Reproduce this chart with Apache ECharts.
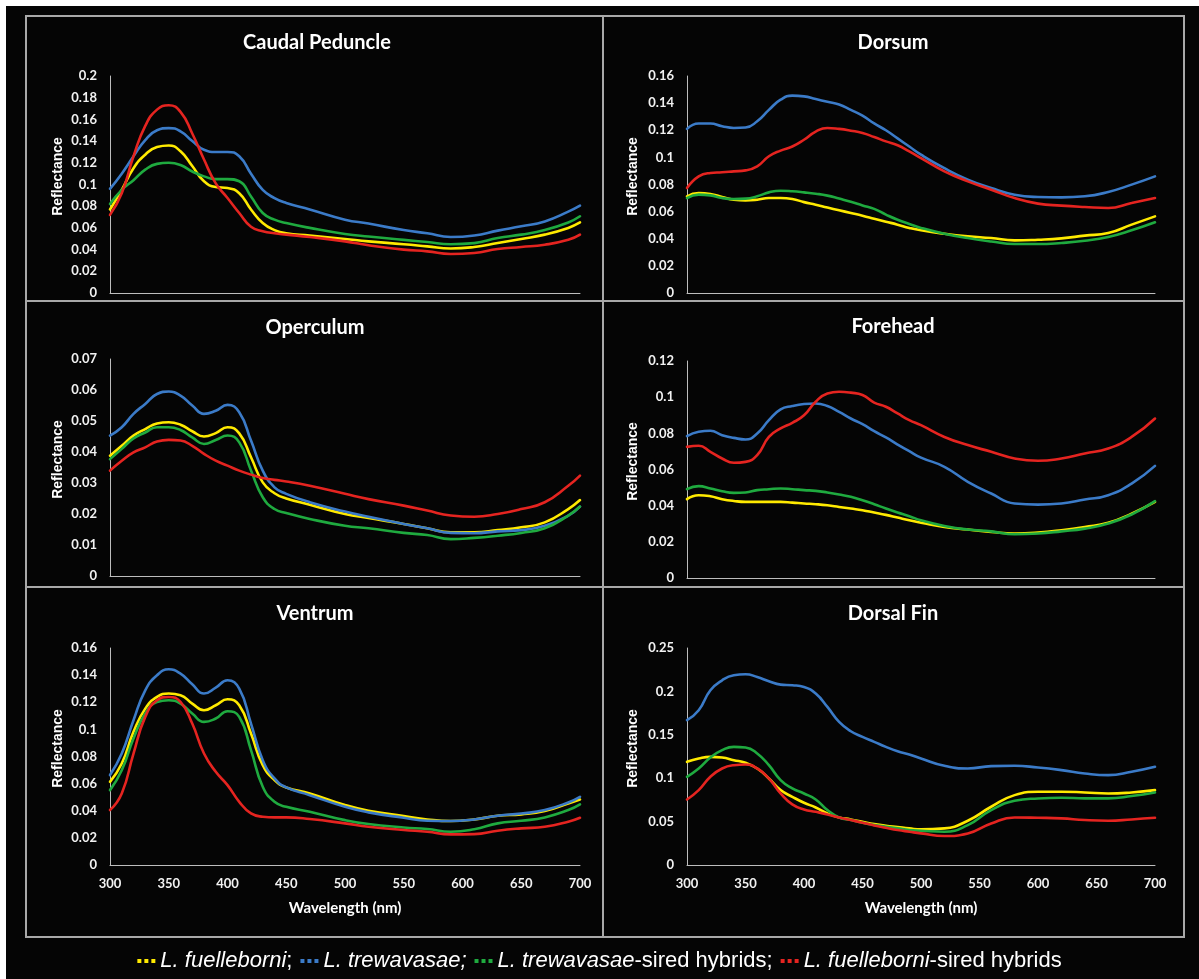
<!DOCTYPE html>
<html><head><meta charset="utf-8">
<script src="https://cdn.jsdelivr.net/npm/echarts@6/dist/echarts.min.js"></script>
<style>html,body{margin:0;padding:0;background:#050505;}#c{width:1199px;height:979px;}</style>
</head><body><div id="c"></div>
<script>
// ---- data ----
const wlLeft  = [300,310,320,330,340,350,360,370,380,390,400,410,420,430,440,450,470,500,520,550,570,590,610,630,650,670,690,700];
const wlRight = [300,310,320,330,340,350,360,370,380,390,400,410,420,430,440,450,460,470,480,490,500,520,540,560,580,600,620,640,660,680,700];

const seriesNames  = ['L. fuelleborni','L. trewavasae','L. trewavasae-sired hybrids','L. fuelleborni-sired hybrids'];
const seriesColors = ['#FFEA00','#3B7BC8','#1FAA3F','#E52420'];
const panelTitles  = ['Caudal Peduncle','Dorsum','Operculum','Forehead','Ventrum','Dorsal Fin'];
const yMax  = [0.2,0.16,0.07,0.12,0.16,0.25];
const yStep = [0.02,0.02,0.01,0.02,0.02,0.05];
const xMin = 300, xMax = 700, xStep = 50;

// Caudal Peduncle
const caudalYellow = [.077,.095,.115,.1275,.1346,.136,.1306,.117,.103,.0977,.0968,.092,.077,.0645,.058,.055,.053,.0498,.0476,.045,.043,.041,.0424,.046,.0498,.0538,.060,.065];
const caudalBlue   = [.096,.110,.126,.141,.150,.152,.149,.140,.132,.130,.130,.126,.110,.095,.0875,.083,.077,.0676,.064,.058,.055,.0516,.053,.0575,.0615,.066,.075,.0805];
const caudalGreen  = [.082,.095,.104,.1137,.119,.120,.118,.112,.1075,.105,.105,.103,.089,.0737,.0676,.0645,.060,.0544,.052,.049,.047,.045,.046,.0507,.0538,.058,.065,.0707];
const caudalRed    = [.072,.092,.126,.154,.169,.173,.167,.147,.123,.101,.0876,.0737,.061,.057,.055,.0538,.0516,.0476,.044,.040,.0384,.036,.0369,.0406,.0424,.0445,.049,.0538];

// Dorsum
const dorsumYellow = [.0713,.0737,.073,.0708,.0688,.0683,.0688,.070,.070,.0693,.067,.0651,.063,.061,.059,.057,.0548,.0526,.0504,.048,.0462,.0437,.0418,.0405,.0388,.0393,.0403,.0423,.0442,.0504,.0565];
const dorsumBlue   = [.121,.125,.125,.123,.1217,.122,.1266,.135,.1425,.1455,.145,.143,.141,.139,.135,.1307,.125,.120,.114,.108,.102,.092,.0836,.0774,.0725,.0708,.0705,.0713,.0745,.0799,.086];
const dorsumGreen  = [.070,.0725,.072,.070,.0693,.0696,.0713,.0742,.0754,.075,.0742,.0732,.0718,.0696,.0673,.0646,.062,.0578,.054,.0509,.048,.0437,.0405,.038,.0361,.0361,.0369,.0385,.0413,.0462,.0521];
const dorsumRed    = [.0774,.086,.0885,.089,.0897,.0904,.0934,.1008,.105,.108,.113,.119,.1217,.121,.1197,.118,.115,.1118,.1089,.1044,.0995,.0897,.0823,.0762,.070,.0659,.0644,.0634,.0627,.0664,.070];

// Operculum
const operYellow = [.0388,.042,.0453,.0474,.0492,.0496,.0488,.0467,.045,.0461,.048,.046,.0383,.0302,.0267,.025,.023,.020,.0187,.0168,.0154,.0141,.0141,.0148,.0157,.0173,.0216,.0245];
const operBlue   = [.0453,.048,.0523,.0555,.0587,.0595,.0582,.055,.0523,.0533,.0552,.0528,.0437,.034,.0286,.0265,.0238,.0208,.0191,.0168,.0154,.0139,.0138,.0144,.0148,.0162,.0195,.0224];
const operGreen  = [.0377,.041,.0444,.0463,.048,.048,.0471,.0447,.0426,.0439,.0453,.0431,.034,.0254,.0216,.0203,.0184,.0162,.0154,.0139,.0132,.0119,.0123,.013,.0139,.0154,.0195,.0224];
const operRed    = [.034,.0372,.0399,.0415,.0434,.0439,.0437,.042,.0394,.0372,.0356,.034,.0327,.0316,.031,.0305,.0291,.0265,.0248,.0227,.0211,.0195,.0191,.020,.0216,.0238,.0291,.0324];

// Forehead
const foreYellow = [.0436,.0458,.0452,.0436,.0426,.0421,.0421,.0421,.0421,.0417,.0412,.0408,.0402,.0393,.0384,.0375,.0362,.0349,.0334,.0319,.0306,.0282,.0268,.0255,.0246,.0251,.0264,.0282,.0305,.0356,.0421];
const foreBlue   = [.0785,.0809,.0814,.079,.0775,.0766,.0799,.0873,.0932,.0951,.0962,.0965,.0951,.0919,.0882,.0851,.0812,.0777,.0738,.0701,.0666,.0615,.0532,.0467,.0412,.0406,.0412,.0434,.0458,.0522,.062];
const foreGreen  = [.0491,.0508,.0495,.048,.0471,.0473,.0486,.0491,.0495,.0491,.0486,.0482,.0473,.0462,.0449,.043,.0408,.0384,.0362,.0342,.0319,.0288,.0268,.0258,.0242,.0246,.0258,.0273,.0301,.0351,.0425];
const foreRed    = [.0725,.0731,.0698,.0661,.0637,.0642,.068,.078,.0827,.0858,.090,.0975,.102,.103,.1025,.1012,.097,.0947,.091,.0873,.0845,.078,.0735,.0698,.0661,.0648,.0661,.0689,.0716,.078,.0882];

// Ventrum
const ventYellow = [.0613,.0748,.0982,.1153,.1239,.1264,.1252,.119,.1141,.1178,.1222,.1178,.0969,.0736,.0626,.0572,.0528,.0442,.040,.0361,.0336,.0324,.0336,.0363,.0373,.0398,.0454,.0483];
const ventBlue   = [.0663,.0822,.1067,.1288,.1399,.1443,.1411,.1333,.1264,.1308,.1362,.130,.1043,.0773,.0638,.0572,.0515,.0429,.0388,.0348,.0326,.0324,.0336,.0363,.038,.0405,.0461,.0503];
const ventGreen  = [.0552,.0699,.0933,.1117,.1202,.1215,.119,.1117,.1055,.108,.1134,.1092,.0847,.0577,.0466,.0429,.0393,.0331,.0302,.0277,.0265,.0245,.0263,.0307,.0326,.0351,.0405,.0447];
const ventRed    = [.0405,.0528,.0822,.1092,.1215,.1239,.1202,.1043,.0822,.0687,.0589,.0466,.038,.0356,.0351,.0351,.0339,.0307,.0282,.0258,.0245,.0226,.0228,.0253,.027,.0282,.0319,.0348];

// Dorsal Fin
const finYellow = [.1189,.1227,.1246,.1238,.1208,.1177,.1112,.0997,.0863,.0786,.0717,.0663,.0594,.0548,.0525,.0498,.0472,.0452,.0437,.0422,.041,.0422,.051,.0671,.0805,.0844,.0844,.0836,.0824,.0836,.0863];
const finBlue   = [.1668,.1783,.2013,.2128,.2186,.2197,.2166,.2117,.2078,.2071,.2051,.1975,.1821,.1649,.1541,.1476,.1419,.1361,.1311,.1273,.1227,.1143,.1112,.1139,.1143,.1123,.1093,.1054,.1035,.1074,.1131];
const finGreen  = [.1016,.1112,.1238,.1323,.1361,.1354,.1285,.115,.0978,.0882,.0824,.0755,.0633,.0548,.0518,.0487,.046,.0441,.0422,.0403,.0395,.0383,.046,.0633,.074,.0767,.0775,.0767,.0767,.0794,.0836];
const finRed    = [.0755,.0863,.1016,.1112,.115,.1158,.1112,.0997,.0824,.0698,.064,.0613,.0583,.0548,.0518,.0487,.0456,.0429,.0403,.0383,.0364,.0334,.0364,.0479,.0548,.0544,.0537,.0518,.051,.0525,.0544];

// ---- layout ----
const panelData = [
  {wl: wlLeft,  vals: [caudalYellow, caudalBlue, caudalGreen, caudalRed]},
  {wl: wlRight, vals: [dorsumYellow, dorsumBlue, dorsumGreen, dorsumRed]},
  {wl: wlLeft,  vals: [operYellow, operBlue, operGreen, operRed]},
  {wl: wlRight, vals: [foreYellow, foreBlue, foreGreen, foreRed]},
  {wl: wlLeft,  vals: [ventYellow, ventBlue, ventGreen, ventRed]},
  {wl: wlRight, vals: [finYellow, finBlue, finGreen, finRed]}
];
const gridPos = [
  {left:110, top:76,  width:470, height:217},
  {left:687, top:76,  width:468, height:217},
  {left:110, top:359, width:470, height:217},
  {left:687, top:361, width:468, height:217},
  {left:110, top:648, width:470, height:217},
  {left:687, top:648, width:468, height:217}
];
const titlePos = [[317,43],[893,43],[315,328],[893,327],[315,614],[893,614]];
const nameGaps = [45,47,45,47,45,47];

const tickFont = {color:'#f2f2f2', fontFamily:'Lato', fontWeight:'bold', fontSize:13};
const axisLineStyle = {show:true, lineStyle:{color:'#bdbdbd', width:1}};

const grids = [], xAxes = [], yAxes = [], series = [], graphics = [];
gridPos.forEach((g,i)=>{
  grids.push(Object.assign({containLabel:false}, g));
  const bottomRow = i >= 4;
  xAxes.push({
    type:'value', gridIndex:i, min:xMin, max:xMax, interval:xStep,
    axisLine:axisLineStyle, axisTick:{show:false}, splitLine:{show:false},
    axisLabel: Object.assign({show:bottomRow, margin:12}, tickFont),
    name: bottomRow ? 'Wavelength (nm)' : '',
    nameLocation:'middle', nameGap:36,
    nameTextStyle:{color:'#fff', fontFamily:'Lato', fontWeight:'bold', fontSize:15}
  });
  yAxes.push({
    type:'value', gridIndex:i, min:0, max:yMax[i], interval:yStep[i],
    axisLine:axisLineStyle, axisTick:{show:false}, splitLine:{show:false},
    axisLabel: Object.assign({margin:13, formatter:v=>String(+v.toFixed(3))}, tickFont),
    name:'Reflectance', nameLocation:'middle', nameGap:nameGaps[i],
    nameTextStyle:{color:'#fff', fontFamily:'Liberation Sans', fontWeight:'bold', fontSize:14, padding:[0,0,0,16]}
  });
  const p = panelData[i];
  p.vals.forEach((vals,k)=>{
    series.push({
      name: seriesNames[k], type:'line', xAxisIndex:i, yAxisIndex:i,
      data: p.wl.map((w,j)=>[w, vals[j]]),
      smooth:0.5, symbol:'none', showSymbol:false,
      color: seriesColors[k],
      lineStyle:{width:2.6, color:seriesColors[k], cap:'round', join:'round'},
      itemStyle:{color:seriesColors[k]}
    });
  });
  graphics.push({
    type:'text', x:titlePos[i][0], y:titlePos[i][1], z:10,
    style:{text:panelTitles[i], fill:'#fff', fontFamily:'Lato', fontWeight:'bold', fontSize:20,
           align:'center', verticalAlign:'middle', textAlign:'center', textVerticalAlign:'middle'}
  });
});

// frame and white strips
const frameColor = '#a8a8a8';
graphics.push({type:'rect', shape:{x:0,y:0,width:1199,height:6}, style:{fill:'#fff'}, silent:true});
graphics.push({type:'rect', shape:{x:0,y:0,width:6,height:979}, style:{fill:'#fff'}, silent:true});
graphics.push({type:'rect', shape:{x:26,y:16,width:1158,height:921}, style:{fill:null, stroke:frameColor, lineWidth:2}, silent:true});
graphics.push({type:'line', shape:{x1:603,y1:16,x2:603,y2:937}, style:{stroke:frameColor, lineWidth:2}, silent:true});
graphics.push({type:'line', shape:{x1:26,y1:301,x2:1184,y2:301}, style:{stroke:frameColor, lineWidth:2}, silent:true});
graphics.push({type:'line', shape:{x1:26,y1:587,x2:1184,y2:587}, style:{stroke:frameColor, lineWidth:2}, silent:true});

const legFont = "'Liberation Sans Narrow','Arial Narrow','Liberation Sans',sans-serif";
const legendFmt = {
  'L. fuelleborni': '{i|L. fuelleborni}{n|;}',
  'L. trewavasae': '{i|L. trewavasae;}',
  'L. trewavasae-sired hybrids': '{i|L. trewavasae}{n|-sired hybrids;}',
  'L. fuelleborni-sired hybrids': '{i|L. fuelleborni}{n|-sired hybrids}'
};

const chart = echarts.init(document.getElementById('c'), null, {renderer:'canvas'});
chart.setOption({
  backgroundColor:'#050505',
  animation:false,
  grid:grids, xAxis:xAxes, yAxis:yAxes, series:series,
  graphic:{elements:graphics},
  legend:{
    data:seriesNames, left:'center', top:945, selectedMode:false,
    icon:'path://M0 0H4V4H0ZM7 0H11V4H7ZM14 0H18V4H14Z',
    itemWidth:18, itemHeight:4, itemGap:8,
    formatter: n => legendFmt[n],
    textStyle:{
      color:'#fff', fontSize:22, fontFamily:legFont,
      rich:{
        i:{color:'#fff', fontSize:22, fontFamily:legFont, fontStyle:'italic'},
        n:{color:'#fff', fontSize:22, fontFamily:legFont, fontStyle:'normal'}
      }
    }
  }
});
</script></body></html>
